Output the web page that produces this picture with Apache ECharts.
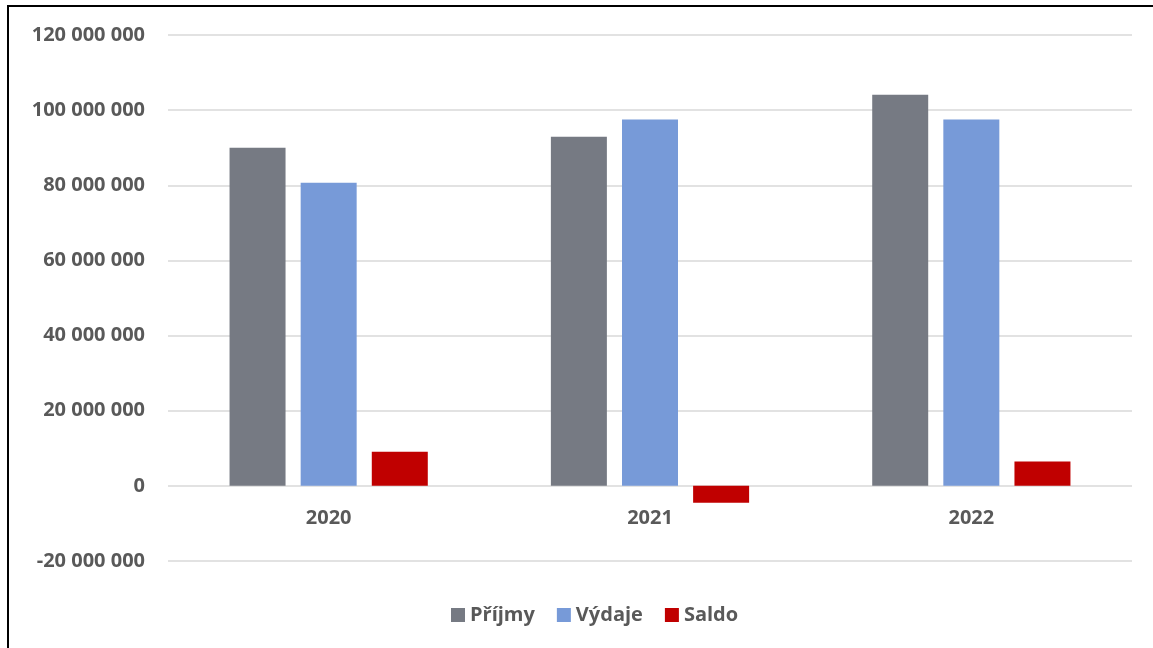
<!DOCTYPE html>
<html><head><meta charset="utf-8">
<script src="https://cdn.jsdelivr.net/npm/echarts@6/dist/echarts.min.js"></script>
<style>html,body{margin:0;padding:0;background:#fff;}#c{width:1153px;height:648px;}</style>
</head><body><div id="c"></div>
<script>
const categories = ['2020', '2021', '2022'];
const prijmy = [90000000, 92900000, 104100000];
const vydaje = [80700000, 97500000, 97500000];
const saldo = [9100000, -4500000, 6500000];
const seriesNames = ['Příjmy', 'Výdaje', 'Saldo'];

function fmt(v){ return String(v).replace(/\B(?=(\d{3})+(?!\d))/g, ' '); }
const font = '"Open Sans", sans-serif';
const chart = echarts.init(document.getElementById('c'));
chart.setOption({
  animation: false,
  color: ['#767A83', '#779AD8', '#C00000'],
  grid: { left: 168, right: 21, top: 35, bottom: 87, containLabel: false },
  legend: {
    data: seriesNames, bottom: 18, left: 446, itemWidth: 14, itemHeight: 14, itemGap: 22,
    icon: 'rect',
    textStyle: { color: '#595959', fontSize: 20, fontWeight: 'bold', fontFamily: font }
  },
  xAxis: {
    type: 'category', data: categories, offset: -75,
    axisLine: { show: false, onZero: false },
    axisTick: { show: false },
    axisLabel: { color: '#595959', fontSize: 20, fontWeight: 'bold', fontFamily: font, margin: 22 }
  },
  yAxis: {
    type: 'value', min: -20000000, max: 120000000, interval: 20000000,
    axisLine: { show: false }, axisTick: { show: false },
    splitLine: { lineStyle: { color: '#d9d9d9', width: 1.5 } },
    axisLabel: { color: '#595959', fontSize: 20, fontWeight: 'bold', fontFamily: font, margin: 23, formatter: fmt }
  },
  series: [
    { name: seriesNames[0], type: 'bar', data: prijmy, barWidth: 56, barGap: '27%' },
    { name: seriesNames[1], type: 'bar', data: vydaje, barWidth: 56, barGap: '27%' },
    { name: seriesNames[2], type: 'bar', data: saldo, barWidth: 56, barGap: '27%' }
  ],
  graphic: [
    { type: 'line', shape: { x1: 8, y1: 6, x2: 1153, y2: 6 }, style: { stroke: '#000', lineWidth: 2 } },
    { type: 'line', shape: { x1: 8, y1: 5, x2: 8, y2: 648 }, style: { stroke: '#000', lineWidth: 2 } }
  ]
});
</script></body></html>
